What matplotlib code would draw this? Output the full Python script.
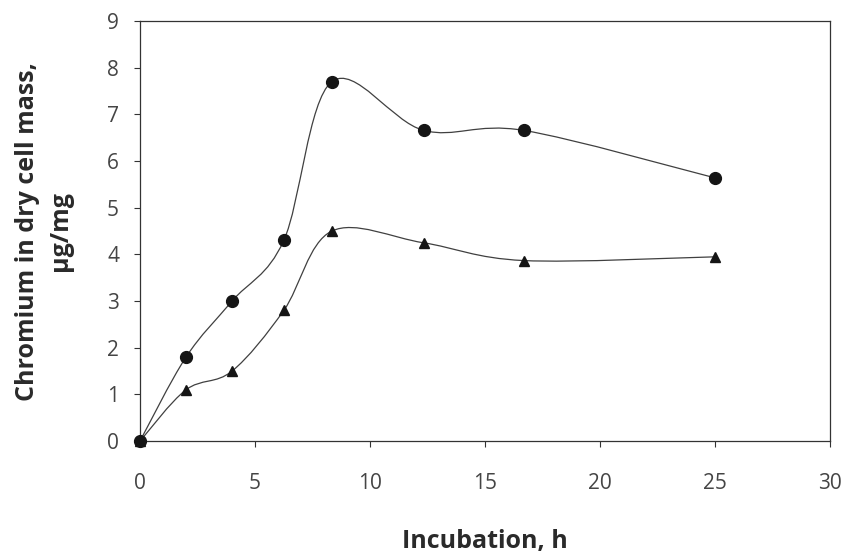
import numpy as np
import matplotlib.pyplot as plt
from matplotlib.path import Path
from matplotlib.patches import PathPatch

# incubation time, h
time_h = [0, 2, 4, 6.25, 8.33, 12.33, 16.67, 25]
# chromium in dry cell mass, ug/mg
circles = [0, 1.8, 3.0, 4.3, 7.7, 6.66, 6.66, 5.64]
triangles = [0, 1.1, 1.5, 2.8, 4.5, 4.25, 3.87, 3.95]

x_ticks = [0, 5, 10, 15, 20, 25, 30]
y_ticks = list(range(0, 10))

plt.rcParams['font.family'] = ['Open Sans', 'DejaVu Sans']


def smooth_path(x, y):
    # Excel-like smoothed line: cubic bezier through every point
    pts = np.column_stack([x, y]).astype(float)
    n = len(pts)
    verts = [pts[0]]
    codes = [Path.MOVETO]
    for i in range(n - 1):
        p0 = pts[i - 1] if i > 0 else pts[i]
        p1 = pts[i]
        p2 = pts[i + 1]
        p3 = pts[i + 2] if i + 2 < n else pts[i + 1]
        c1 = p1 + (p2 - p0) / 6.0
        c2 = p2 - (p3 - p1) / 6.0
        verts += [c1, c2, p2]
        codes += [Path.CURVE4] * 3
    return Path(verts, codes)


fig = plt.figure(figsize=(8.43, 5.57), dpi=100)
ax = fig.add_axes([0.166, 0.208, 0.819, 0.754])

for ys, mk, ms in [(circles, 'o', 8.5), (triangles, '^', 6.5)]:
    patch = PathPatch(smooth_path(time_h, ys), facecolor='none',
                      edgecolor='#404040', lw=0.9)
    ax.add_patch(patch)
    ax.plot(time_h, ys, linestyle='none', marker=mk, markersize=ms,
            color='#151515', zorder=3, clip_on=False)

ax.set_xlim(0, 30)
ax.set_ylim(0, 9)
ax.set_xticks(x_ticks)
ax.set_yticks(y_ticks)
ax.tick_params(direction='out', length=4, width=0.8, colors='#333333',
               labelsize=15, labelcolor='#454545')
ax.tick_params(axis='x', pad=19)
ax.tick_params(axis='y', pad=11)
for s in ax.spines.values():
    s.set_color('#333333')
    s.set_linewidth(0.9)

ax.set_xlabel('Incubation, h', fontsize=18, fontweight='bold',
              color='#2a2a2a', va='center')
ax.xaxis.set_label_coords(0.50, -0.238)
ax.set_ylabel('Chromium in dry cell mass,\n\u00b5g/mg', fontsize=18,
              fontweight='bold', color='#2a2a2a', va='center',
              linespacing=1.45)
ax.yaxis.set_label_coords(-0.139, 0.5)

fig.savefig('out.png', dpi=100)
